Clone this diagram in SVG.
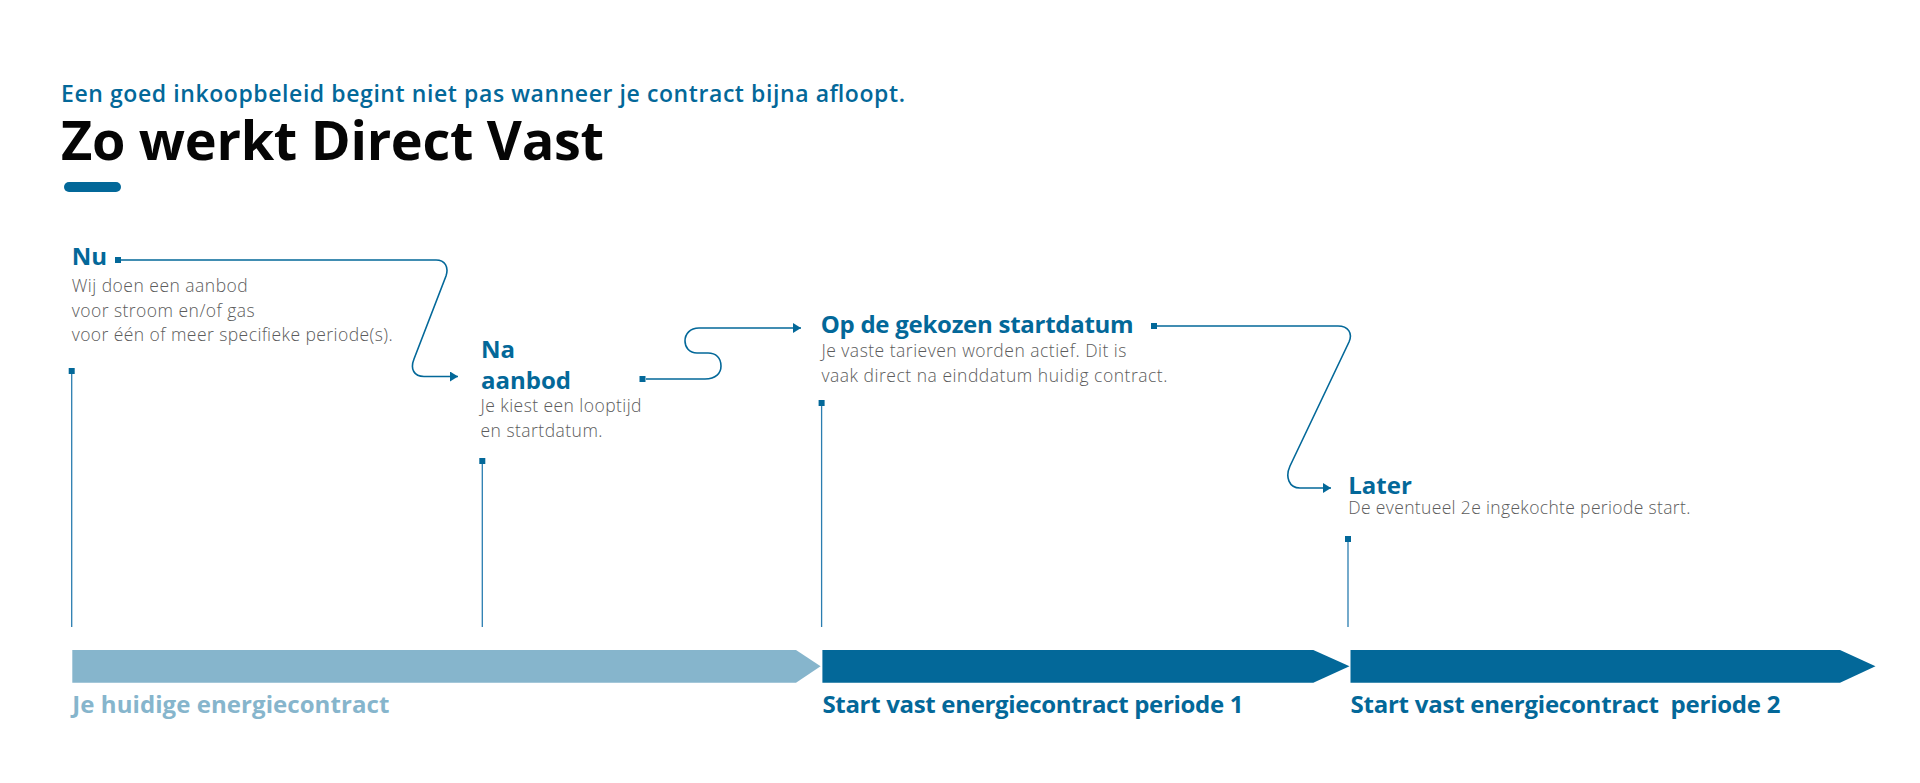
<svg xmlns="http://www.w3.org/2000/svg" width="1920" height="783" viewBox="0 0 1920 783">
<style>
  .bg { fill: #ffffff; }
  .h { font-family: "Open Sans", "Noto Sans", "Liberation Sans", sans-serif; font-weight: 700; font-size: 24px; fill: #036899; }
  .b { font-family: "Open Sans", "Noto Sans", "Liberation Sans", sans-serif; font-weight: 300; font-size: 17.5px; fill: #5c5c5c; }
  .sub { font-family: "Open Sans", "Noto Sans", "Liberation Sans", sans-serif; font-weight: 600; font-size: 23px; fill: #036899; }
  .title { font-family: "Open Sans", "Noto Sans", "Liberation Sans", sans-serif; font-weight: 700; font-size: 54px; fill: #050505; }
  .lbl { font-family: "Open Sans", "Noto Sans", "Liberation Sans", sans-serif; font-weight: 700; font-size: 24px; white-space: pre; }
  .sq { fill: #036899; }
  .vl { stroke: #2a7db0; stroke-width: 1.3; fill: none; }
  .con { stroke: #036899; stroke-width: 1.6; fill: none; marker-end: url(#arr); }
  .dark { fill: #036899; }
  .light { fill: #86b5cc; }
</style>
<defs>
  <marker id="arr" viewBox="0 0 8 10" refX="8" refY="5" markerWidth="8" markerHeight="10" markerUnits="userSpaceOnUse" orient="auto">
    <path d="M0,0 L8,5 L0,10 Z" fill="#036899"/>
  </marker>
</defs>
<rect class="bg" x="0" y="0" width="1920" height="783"/>

<g id="header">
  <text class="sub" x="61" y="101.5" textLength="844">Een goed inkoopbeleid begint niet pas wanneer je contract bijna afloopt.</text>
  <text class="title" x="61" y="160" textLength="543">Zo werkt Direct Vast</text>
  <rect class="dark" x="64" y="182" width="57" height="10" rx="5"/>
</g>

<g id="connectors">
  <path class="con" d="M121 260 L436 260 C445 260 449 267 446 276 L414 359 C410 369 414 376.5 424 376.5 L458 376.5"/>
  <path class="con" d="M646 379 L705 379 C716 379 721 373 721 366 C721 358 716 353 708 353 L697 353 C689 353 685 347 685 341 C685 334 690 328 699 328 L801 328"/>
  <path class="con" d="M1157 326 L1338 326 C1348 326 1353 333 1349 342 L1290 466 C1285 477 1289 488 1300 488 L1331 488"/>
</g>

<g id="node-nu">
  <text class="h" x="71.7" y="265">Nu</text>
  <rect class="sq" x="115" y="257" width="6" height="6"/>
  <text class="b" x="71.7" y="292" textLength="176">Wij doen een aanbod</text>
  <text class="b" x="71.7" y="316.5" textLength="183">voor stroom en/of gas</text>
  <text class="b" x="71.7" y="341" textLength="321">voor één of meer specifieke periode(s).</text>
  <rect class="sq" x="68.7" y="368" width="6" height="6"/>
  <line class="vl" x1="71.7" y1="374" x2="71.7" y2="627"/>
</g>

<g id="node-na-aanbod">
  <text class="h" x="481" y="358.3">Na</text>
  <text class="h" x="481" y="389">aanbod</text>
  <rect class="sq" x="639.5" y="376" width="6" height="6"/>
  <text class="b" x="480.5" y="411.7" textLength="161">Je kiest een looptijd</text>
  <text class="b" x="480.5" y="436.5" textLength="122">en startdatum.</text>
  <rect class="sq" x="479.3" y="458" width="6" height="6"/>
  <line class="vl" x1="482.3" y1="464" x2="482.3" y2="627"/>
</g>

<g id="node-op-de-gekozen-startdatum">
  <text class="h" x="820.7" y="333.3" textLength="313">Op de gekozen startdatum</text>
  <rect class="sq" x="1151" y="323" width="6" height="6"/>
  <text class="b" x="821.4" y="357.3" textLength="305">Je vaste tarieven worden actief. Dit is</text>
  <text class="b" x="821.4" y="381.7" textLength="346">vaak direct na einddatum huidig contract.</text>
  <rect class="sq" x="818.6" y="400" width="6" height="6"/>
  <line class="vl" x1="821.6" y1="406" x2="821.6" y2="627"/>
</g>

<g id="node-later">
  <text class="h" x="1348.3" y="494">Later</text>
  <text class="b" x="1348.3" y="514" textLength="342">De eventueel 2e ingekochte periode start.</text>
  <rect class="sq" x="1345" y="536" width="6" height="6"/>
  <line class="vl" x1="1348" y1="542" x2="1348" y2="627"/>
</g>

<g id="bar-huidig">
  <polygon class="light" points="72.3,650 796,650 820.6,666.3 796,682.7 72.3,682.7"/>
  <text class="lbl" x="72.3" y="713.3" textLength="317" fill="#86b5cc">Je huidige energiecontract</text>
</g>

<g id="bar-periode-1">
  <polygon class="dark" points="822.4,650 1313.3,650 1349.5,666.3 1313.3,682.7 822.4,682.7"/>
  <text class="lbl" x="822.4" y="713.3" textLength="421" fill="#036899">Start vast energiecontract periode 1</text>
</g>

<g id="bar-periode-2">
  <polygon class="dark" points="1350.5,650 1840,650 1875.5,666.3 1840,682.7 1350.5,682.7"/>
  <text class="lbl" x="1350.5" y="713.3" textLength="430" fill="#036899">Start vast energiecontract  periode 2</text>
</g>
</svg>
